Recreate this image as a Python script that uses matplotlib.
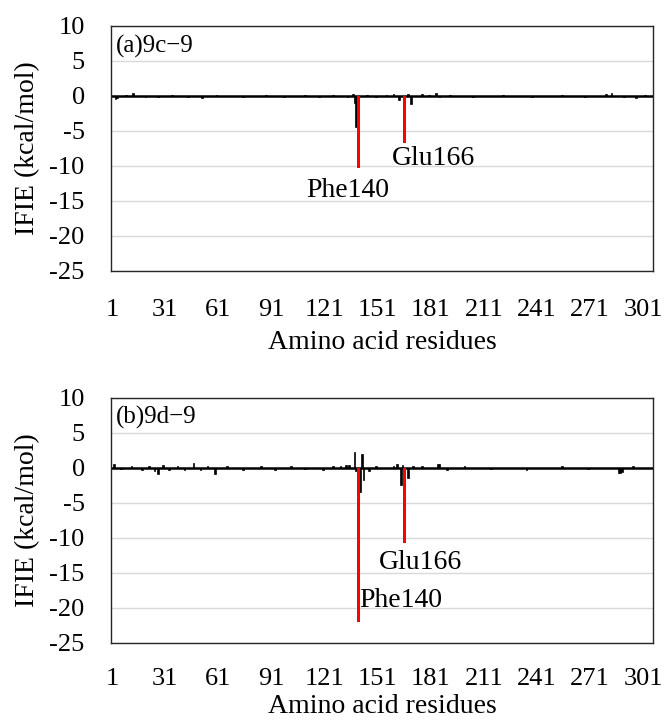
"""
IFIE per amino-acid residue for two ligand complexes (9c-9, 9d-9).
Black bars = all residues, red bars = highlighted key residues.
"""

import numpy as np
import matplotlib
matplotlib.use("Agg")
import matplotlib.pyplot as plt

plt.rcParams["font.family"] = ["Liberation Serif", "DejaVu Serif"]
plt.rcParams["axes.unicode_minus"] = False

# ----------------------------------------------------------------------
# Data (residues not listed are ~0)
# ----------------------------------------------------------------------
n_residues = 306
tick_residues = [1, 31, 61, 91, 121, 151, 181, 211, 241, 271, 301]
y_ticks = [10, 5, 0, -5, -10, -15, -20, -25]

# panel (a) 9c-9
ifie_a = {
    3: -0.5, 4: -0.3, 9: 0.2, 13: 0.4, 20: -0.2, 27: -0.2, 35: 0.2,
    44: -0.2, 52: -0.3, 60: 0.2, 75: -0.2, 88: 0.2, 98: -0.2, 110: 0.2,
    118: -0.2, 126: 0.2, 134: -0.2, 137: 0.3, 138: -1.0, 139: -4.5,
    145: 0.2, 150: -0.2, 156: 0.2, 160: 0.3, 163: -0.6, 168: 0.3,
    170: -1.2, 176: 0.3, 180: 0.2, 184: 0.4, 186: -0.2, 192: 0.2,
    205: -0.2, 222: 0.2, 238: -0.2, 255: 0.2, 268: -0.2, 280: 0.3,
    283: 0.4, 290: -0.2, 297: -0.3, 302: 0.2,
}
red_a = {140: -10.3, 166: -6.7}
names_a = {140: "Phe140", 166: "Glu166"}

# panel (b) 9d-9
ifie_b = {
    2: 0.5, 6: -0.2, 12: 0.2, 18: -0.3, 22: 0.3, 25: -0.4, 27: -0.9,
    30: 0.4, 33: -0.3, 38: 0.3, 42: -0.3, 47: 0.7, 51: -0.3, 55: 0.2,
    59: -0.9, 66: 0.2, 75: -0.3, 85: 0.3, 93: -0.3, 102: 0.2, 110: -0.2,
    120: -0.3, 126: 0.2, 130: 0.3, 133: 0.4, 135: 0.4, 138: 2.3,
    139: -0.4, 141: -3.4, 142: 1.9, 143: -1.8, 146: -0.4, 150: 0.2,
    160: 0.3, 162: 0.5, 164: -2.4, 165: 0.4, 168: -1.5, 171: 0.3,
    176: 0.2, 185: 0.6, 186: 0.5, 190: -0.3, 200: 0.2, 215: -0.2,
    235: -0.3, 255: 0.2, 270: -0.2, 287: -0.8, 288: -0.8, 289: -0.6,
    295: 0.2,
}
red_b = {140: -22.0, 166: -10.7}
names_b = {140: "Phe140", 166: "Glu166"}

panels = [
    ("(a)9c\u22129", ifie_a, red_a, names_a,
     {140: (134.0, -13.5), 166: (182.5, -9.0)}),
    ("(b)9d\u22129", ifie_b, red_b, names_b,
     {140: (164.0, -19.0), 166: (175.0, -13.5)}),
]


def to_array(values):
    arr = np.zeros(n_residues)
    for res, v in values.items():
        arr[res - 1] = v
    return arr


fig = plt.figure(figsize=(6.65, 7.22), dpi=100)
ax_rects = [
    [0.167, 0.625, 0.815, 0.339],
    [0.167, 0.110, 0.815, 0.339],
]

residues = np.arange(1, n_residues + 1)

for i, (rect, (label, vals, reds, names, text_pos)) in enumerate(zip(ax_rects, panels)):
    ax = fig.add_axes(rect)
    ax.set_axisbelow(True)

    ax.bar(residues, to_array(vals), width=1.0, color="black",
           edgecolor="black", linewidth=0.5, zorder=2)
    ax.axhline(0, color="black", linewidth=1.8, zorder=2)
    ax.bar(list(reds.keys()), list(reds.values()), width=1.7, color="red",
           linewidth=0, zorder=3)

    for res, name in names.items():
        tx, ty = text_pos[res]
        ax.text(tx, ty, name, ha="center", va="center", fontsize=20)

    ax.text(0.008, 0.965, label, transform=ax.transAxes, ha="left",
            va="top", fontsize=18)

    ax.set_xlim(0.5, n_residues + 0.5)
    ax.set_ylim(-25, 10)
    ax.set_yticks(y_ticks)
    ax.set_yticklabels([str(t) for t in y_ticks])
    ax.set_xticks(tick_residues)
    ax.set_xticklabels([str(t) for t in tick_residues])
    ax.tick_params(axis="both", length=0, labelsize=19)
    ax.tick_params(axis="x", pad=20 if i == 0 else 18)
    ax.tick_params(axis="y", pad=19)
    ax.grid(True, axis="y", color="#d9d9d9", linewidth=1.0)

    for sp in ax.spines.values():
        sp.set_color("#262626")
        sp.set_linewidth(1.0)

    ax.set_ylabel("IFIE (kcal/mol)", fontsize=20, labelpad=7)
    ax.set_xlabel("Amino acid residues", fontsize=20,
                  labelpad=7 if i == 0 else 3)

fig.savefig("out.png", dpi=100)
plt.close(fig)
